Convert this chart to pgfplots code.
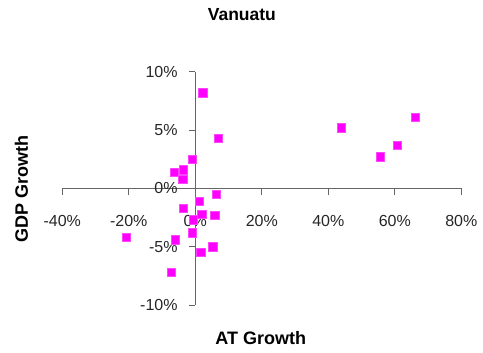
\documentclass[border=0pt]{standalone}
\usepackage{fontspec}
\setmainfont{Liberation Sans}
\usepackage{pgfplots}
\pgfplotsset{compat=1.18}
\definecolor{mag}{RGB}{255,0,255}
\definecolor{magedge}{RGB}{255,70,255}
\begin{document}
\begin{tikzpicture}[x=1pt,y=1pt]
\begin{axis}[
  at={(62.3pt,48pt)}, anchor=south west,
  scale only axis, width=399pt, height=233.3pt,
  axis lines*=middle,
  axis line style={black!60, line width=0.8pt},
  xmin=-40, xmax=80, ymin=-10, ymax=10,
  xtick={-40,-20,0,20,40,60,80},
  xticklabels={-40\%,-20\%,0\%,20\%,40\%,60\%,80\%},
  ytick={-10,-5,0,5,10},
  yticklabels={-10\%,-5\%,0\%,5\%,10\%},
  hide obscured x ticks=false, hide obscured y ticks=false,
  tick align=outside,
  major tick length=6.5pt,
  tick style={black!60, line width=0.8pt},
  ticklabel style={font=\fontsize{16}{19}\selectfont, text=black!85},
  xticklabel style={anchor=north, inner sep=0pt, yshift=-20pt},
  yticklabel style={anchor=east, inner sep=0pt, xshift=-11pt},
  title={Vanuatu},
  title style={at={(axis description cs:0.45,1.249)}, anchor=center, yshift=-6.5pt, inner sep=0pt, font=\fontsize{17.5}{20}\selectfont\bfseries},
  xlabel={AT Growth},
  xlabel style={at={(axis description cs:0.4975,-0.1414)}, anchor=center, inner sep=0pt, font=\fontsize{18}{21}\selectfont\bfseries},
  ylabel={GDP Growth},
  ylabel style={at={(axis description cs:-0.1023,0.497)}, anchor=center, rotate=0, inner sep=0pt, font=\fontsize{18}{21}\selectfont\bfseries},
  clip=false,
]
\addplot[only marks, mark=square*, mark size=4.2pt, mark options={draw=magedge, fill=mag, line width=0.5pt}] coordinates {
(2.3, 8.2)
(6.9, 4.3)
(-0.9, 2.5)
(-3.6, 1.6)
(-6.3, 1.4)
(-3.8, 0.8)
(6.3, -0.5)
(1.2, -1.1)
(-3.6, -1.7)
(1.9, -2.2)
(5.8, -2.3)
(-0.7, -2.7)
(-0.9, -3.8)
(-20.7, -4.2)
(-6.0, -4.4)
(5.2, -5.0)
(1.6, -5.5)
(-7.2, -7.2)
(43.9, 5.2)
(66.2, 6.1)
(60.7, 3.7)
(55.7, 2.7)
};
\end{axis}
\pgfresetboundingbox
\path[use as bounding box] (0,0) rectangle (483pt,353pt);
\end{tikzpicture}
\end{document}
